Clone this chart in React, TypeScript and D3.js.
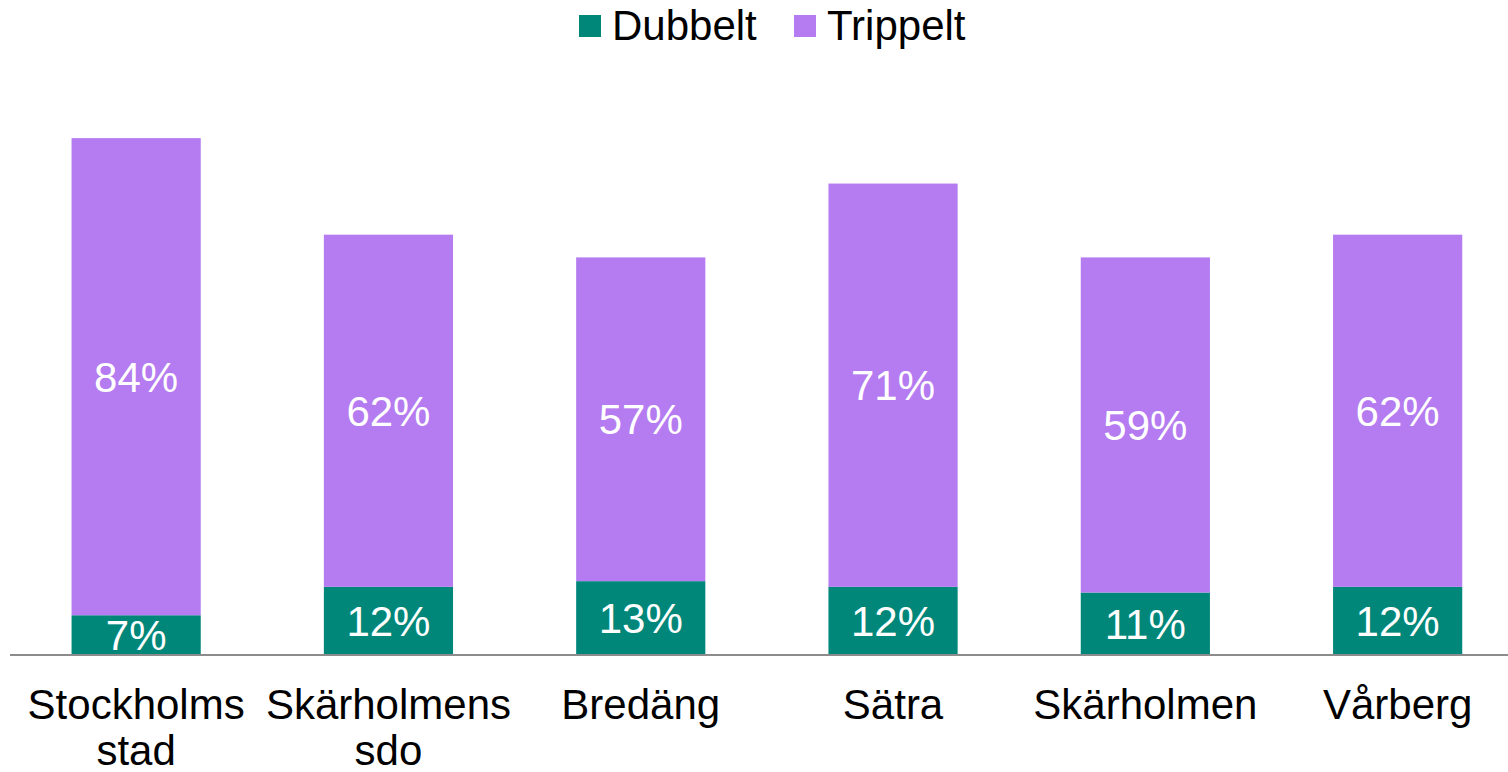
import { useEffect, useRef } from "react";
import * as d3 from "d3";

// Category labels (two-line labels split on "\n")
const CATEGORIES = [
  "Stockholms\nstad",
  "Skärholmens\nsdo",
  "Bredäng",
  "Sätra",
  "Skärholmen",
  "Vårberg",
];

// Shares in percent
const DUBBELT = [7, 12, 13, 12, 11, 12];
const TRIPPELT = [84, 62, 57, 71, 59, 62];

const SERIES = [
  { key: "dubbelt", name: "Dubbelt", color: "#00877A", values: DUBBELT },
  { key: "trippelt", name: "Trippelt", color: "#B57BF0", values: TRIPPELT },
];

const WIDTH = 1508;
const HEIGHT = 772;
const FONT = "'Liberation Sans', Arial, Helvetica, sans-serif";
const FONT_SIZE = 42;

const baseY = 655;
const pxPerPct = 5.68;

export default function App() {
  const svgRef = useRef<SVGSVGElement>(null);

  useEffect(() => {
    if (!svgRef.current) return;
    const svg = d3.select(svgRef.current);
    svg.selectAll("*").remove();

    const x = d3.scaleBand()
      .domain(CATEGORIES)
      .range([10, 10 + 252.3 * 6])
      .paddingInner(0.488)
      .paddingOuter(0.244);

    const y = d3.scaleLinear()
      .domain([0, 100])
      .range([baseY, baseY - 100 * pxPerPct]);

    const rows = CATEGORIES.map((c, i) => ({
      category: c,
      dubbelt: DUBBELT[i],
      trippelt: TRIPPELT[i],
    }));

    const stacked = d3.stack<any>().keys(SERIES.map((s) => s.key))(rows);

    const bars = svg.append("g").attr("class", "bars");

    stacked.forEach((layer, li) => {
      const s = SERIES[li];
      const g = bars.append("g").attr("class", `series-${s.key}`);

      g.selectAll("rect")
        .data(layer)
        .join("rect")
        .attr("x", (d) => x(d.data.category) ?? 0)
        .attr("width", x.bandwidth())
        .attr("y", (d) => y(d[1]))
        .attr("height", (d) => y(d[0]) - y(d[1]))
        .attr("fill", s.color);

      g.selectAll("text")
        .data(layer)
        .join("text")
        .attr("x", (d) => (x(d.data.category) ?? 0) + x.bandwidth() / 2)
        .attr("y", (d) => (y(d[0]) + y(d[1])) / 2 + 15)
        .attr("text-anchor", "middle")
        .attr("font-family", FONT)
        .attr("font-size", FONT_SIZE)
        .attr("fill", "#ffffff")
        .text((d) => `${d[1] - d[0]}%`);
    });

    // Baseline axis
    svg.append("line")
      .attr("x1", 10)
      .attr("x2", WIDTH)
      .attr("y1", y(0))
      .attr("y2", y(0))
      .attr("stroke", "#8c8c8c")
      .attr("stroke-width", 2);

    // Category labels
    const labels = svg.append("g").attr("class", "x-labels");
    CATEGORIES.forEach((c) => {
      const t = labels.append("text")
        .attr("x", (x(c) ?? 0) + x.bandwidth() / 2)
        .attr("y", 719)
        .attr("text-anchor", "middle")
        .attr("font-family", FONT)
        .attr("font-size", FONT_SIZE)
        .attr("fill", "#000000");
      c.split("\n").forEach((line, i) => {
        t.append("tspan")
          .attr("x", (x(c) ?? 0) + x.bandwidth() / 2)
          .attr("dy", i === 0 ? 0 : 46)
          .text(line);
      });
    });

    // Legend
    const legend = svg.append("g").attr("class", "legend");
    const legendX = [579, 794];
    SERIES.forEach((s, i) => {
      legend.append("rect")
        .attr("x", legendX[i])
        .attr("y", 15)
        .attr("width", 22)
        .attr("height", 22)
        .attr("fill", s.color);
      legend.append("text")
        .attr("x", legendX[i] + 33)
        .attr("y", 40)
        .attr("font-family", FONT)
        .attr("font-size", FONT_SIZE)
        .attr("fill", "#000000")
        .text(s.name);
    });
  }, []);

  return (
    <svg
      ref={svgRef}
      width={WIDTH}
      height={HEIGHT}
      style={{ position: "absolute", left: 0, top: 0, background: "#ffffff" }}
    />
  );
}
